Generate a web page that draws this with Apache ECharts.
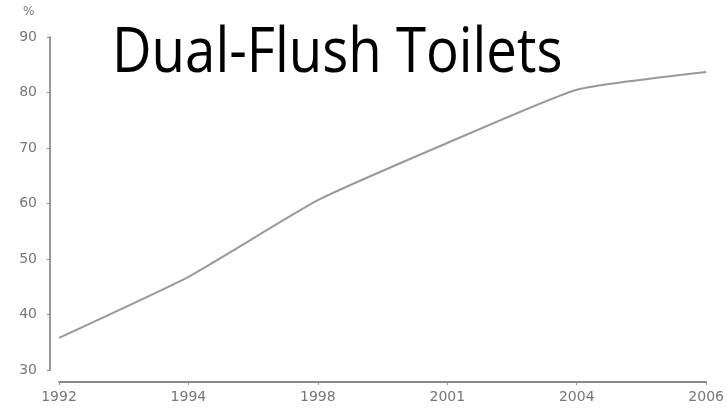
<!DOCTYPE html>
<html><head><meta charset="utf-8">
<script src="https://cdn.jsdelivr.net/npm/echarts@6/dist/echarts.min.js"></script>
<style>html,body{margin:0;padding:0;background:#fff}#c{width:727px;height:411px}</style>
</head><body><div id="c"></div>
<script>
const years = ["1992", "1994", "1998", "2001", "2004", "2006"];
const percent = [35.8, 46.8, 60.6, 70.9, 80.5, 83.7];
const yTicks = [30, 40, 50, 60, 70, 80, 90];

const chart = echarts.init(document.getElementById('c'), null, {renderer: 'canvas'});
chart.setOption({
  animation: false,
  backgroundColor: '#fff',
  graphic: [
    {type: 'text', x: 112, y: 22, scaleY: 1.15, originX: 0, originY: 0,
     style: {text: 'Dual-Flush Toilets', font: '54.6px "Open Sans"', fill: '#000'}},
    {type: 'text', left: 23, top: 6, style: {text: '%', font: '12px "DejaVu Sans"', fill: '#777'}}
  ],
  grid: {left: 59, right: 18, top: 37, bottom: 41},
  xAxis: {
    type: 'category', data: years, boundaryGap: false, offset: 12,
    axisLine: {lineStyle: {color: '#888', width: 2}},
    axisTick: {show: true, length: 3, lineStyle: {color: '#999'}},
    axisLabel: {color: '#777', fontSize: 14, fontFamily: 'DejaVu Sans', margin: 8}
  },
  yAxis: {
    type: 'value', min: yTicks[0], max: yTicks[yTicks.length - 1], interval: 10, offset: 9,
    axisLine: {show: true, lineStyle: {color: '#999', width: 2}},
    axisTick: {show: true, length: 3, lineStyle: {color: '#888'}},
    axisLabel: {color: '#777', fontSize: 14, fontFamily: 'DejaVu Sans', margin: 13},
    splitLine: {show: false}
  },
  series: [{
    type: 'line', data: percent, smooth: 0.15, showSymbol: false,
    lineStyle: {color: '#999', width: 2}
  }]
});
</script></body></html>
